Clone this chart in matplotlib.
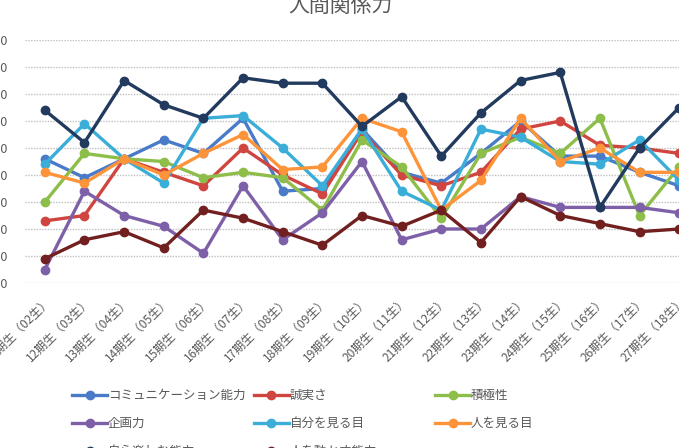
import matplotlib
matplotlib.use("Agg")
import matplotlib.pyplot as plt
from matplotlib.lines import Line2D

plt.rcParams['font.family'] = ['Noto Sans CJK JP', 'DejaVu Sans']

categories = ["11期生（02生）", "12期生（03生）", "13期生（04生）", "14期生（05生）",
              "15期生（06生）", "16期生（07生）", "17期生（08生）", "18期生（09生）",
              "19期生（10生）", "20期生（11生）", "21期生（12生）", "22期生（13生）",
              "23期生（14生）", "24期生（15生）", "25期生（16生）", "26期生（17生）",
              "27期生（18生）"]

communication = [3.56, 3.49, 3.56, 3.63, 3.58, 3.71, 3.44, 3.45, 3.67, 3.51, 3.47, 3.58, 3.70, 3.57, 3.57, 3.51, 3.46]
sincerity     = [3.33, 3.35, 3.56, 3.51, 3.46, 3.60, 3.50, 3.43, 3.66, 3.50, 3.46, 3.51, 3.67, 3.70, 3.61, 3.60, 3.58]
positivity    = [3.40, 3.58, 3.56, 3.55, 3.49, 3.51, 3.49, 3.37, 3.63, 3.53, 3.34, 3.58, 3.64, 3.58, 3.71, 3.35, 3.53]
planning      = [3.15, 3.44, 3.35, 3.31, 3.21, 3.46, 3.26, 3.36, 3.55, 3.26, 3.30, 3.30, 3.42, 3.38, 3.38, 3.38, 3.36]
self_view     = [3.54, 3.69, 3.56, 3.47, 3.71, 3.72, 3.60, 3.46, 3.67, 3.44, 3.37, 3.67, 3.64, 3.55, 3.54, 3.63, 3.48]
others_view   = [3.51, 3.47, 3.56, 3.50, 3.58, 3.65, 3.52, 3.53, 3.71, 3.66, 3.37, 3.48, 3.71, 3.55, 3.60, 3.51, 3.51]
enjoy         = [3.74, 3.62, 3.85, 3.76, 3.71, 3.86, 3.84, 3.84, 3.68, 3.79, 3.57, 3.73, 3.85, 3.88, 3.38, 3.60, 3.75]
move_people   = [3.19, 3.26, 3.29, 3.23, 3.37, 3.34, 3.29, 3.24, 3.35, 3.31, 3.37, 3.25, 3.42, 3.35, 3.32, 3.29, 3.30]

series_names = ["コミュニケーション能力", "誠実さ", "積極性", "企画力",
                "自分を見る目", "人を見る目", "自ら楽しむ能力", "人を動かす能力"]
series_values = [communication, sincerity, positivity, planning,
                 self_view, others_view, enjoy, move_people]
colors = ["#4A7BC8", "#D0453F", "#8DBE4A", "#7E60A8",
          "#3AAED8", "#FD943A", "#213A5E", "#71201F"]

y_ticks = [3.1 + 0.1 * i for i in range(10)]

W, H = 679, 448
fig = plt.figure(figsize=(W / 100, H / 100), dpi=100)
fig.patch.set_facecolor("white")

left_px, right_px, top_px, bottom_px = 25, 699, 40, 283
ax = fig.add_axes([left_px / W, 1 - bottom_px / H,
                   (right_px - left_px) / W, (bottom_px - top_px) / H])
ax.set_facecolor("none")

x = list(range(len(categories)))
for name, vals, c in zip(series_names, series_values, colors):
    ax.plot(x, vals, color=c, linewidth=2.4, marker="o", markersize=6,
            markerfacecolor=c, markeredgecolor=c, label=name, clip_on=False,
            solid_joinstyle="round")

ax.set_xlim(-0.5, len(categories) - 0.5)
ax.set_ylim(3.1, 4.0)
ax.set_yticks(y_ticks)
ax.set_yticklabels([f"{v:.2f}" for v in y_ticks])
for s in ax.spines.values():
    s.set_visible(False)
ax.grid(axis="y", color="#BFBFBF", linestyle=(0, (1, 1)), linewidth=1.0)
ax.set_axisbelow(True)
ax.tick_params(axis="y", length=0, pad=12.2, labelsize=9, labelcolor="#595959")
ax.tick_params(axis="x", length=0, pad=8, labelsize=8.6, labelcolor="#595959")
ax.set_xticks(x)
ax.set_xticklabels(categories, rotation=45, ha="right", va="top",
                   rotation_mode="anchor")

fig.text(340 / W, 1 - 12 / H, "人間関係力", ha="center", va="baseline",
         fontsize=15, color="#595959")

# legend laid out in equal-width columns
col_x = [72, 253.5, 435]
row_y = [395, 423, 451]
for i, (name, c) in enumerate(zip(series_names, colors)):
    cx = col_x[i % 3]
    cy = row_y[i // 3]
    yf = 1 - cy / H
    ln = Line2D([cx / W, (cx + 35) / W], [yf, yf], transform=fig.transFigure,
                color=c, linewidth=2.4)
    mk = Line2D([(cx + 17.5) / W], [yf], transform=fig.transFigure,
                color=c, marker="o", markersize=6, linestyle="none")
    fig.add_artist(ln)
    fig.add_artist(mk)
    fig.text((cx + 36) / W, yf, name, ha="left", va="center",
             fontsize=9, color="#595959")

fig.savefig("out.png", dpi=100)
